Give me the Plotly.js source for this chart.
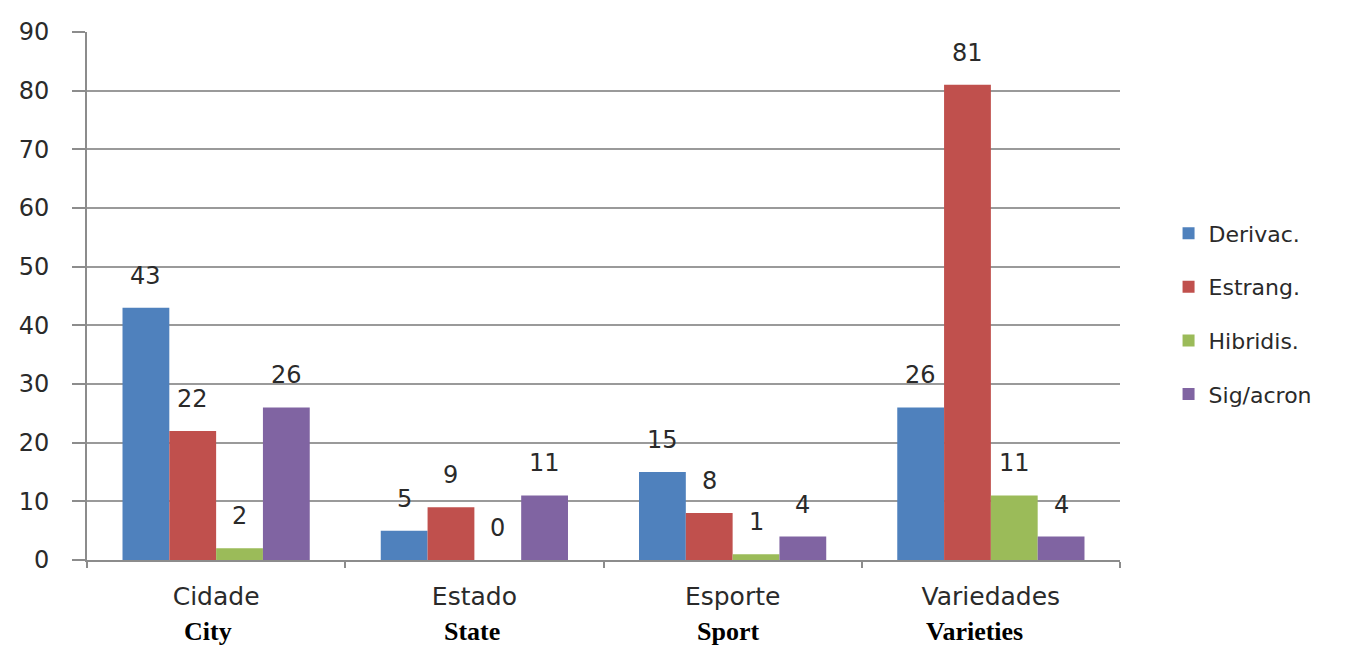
<!DOCTYPE html>
<html>
<head>
<meta charset="utf-8">
<script src="https://cdn.plot.ly/plotly-3.0.1.min.js"></script>
<style>html,body{margin:0;padding:0;background:#fff;}#chart{width:1357px;height:648px;}</style>
</head>
<body>
<div id="chart"></div>
<script>
const categories = ["Cidade", "Estado", "Esporte", "Variedades"];
const englishLabels = ["City", "State", "Sport", "Varieties"];
const seriesNames = ["Derivac.", "Estrang.", "Hibridis.", "Sig/acron"];
const derivac = [43, 5, 15, 26];
const estrang = [22, 9, 8, 81];
const hibridis = [2, 0, 1, 11];
const sigacron = [26, 11, 4, 4];
const seriesColors = ["#4F81BD", "#C0504D", "#9BBB59", "#8064A2"];
const yTicks = [0, 10, 20, 30, 40, 50, 60, 70, 80, 90];

const allSeries = [derivac, estrang, hibridis, sigacron];
const labelFont = {family: "DejaVu Sans", size: 24, color: "#2a2a2a"};
const bargap = 0.275;
const englishShift = [-8, -2, -5, -16];

const traces = allSeries.map((vals, i) => ({
  type: "bar",
  name: seriesNames[i],
  x: categories,
  y: vals,
  marker: {color: seriesColors[i]},
  legendgroup: "g" + i
}));

// data labels above bars
const plotWidth = 1357 - 87 - 237;
const catWidth = plotWidth / categories.length;
const barW = catWidth * (1 - bargap) / allSeries.length;
const annotations = [];
allSeries.forEach((vals, i) => {
  vals.forEach((v, j) => {
    annotations.push({
      x: categories[j], y: v, xref: "x", yref: "y",
      text: String(v), showarrow: false,
      xshift: (i - (allSeries.length - 1) / 2) * barW,
      yshift: 32, yanchor: "middle",
      font: labelFont
    });
  });
});
englishLabels.forEach((t, j) => {
  annotations.push({
    x: categories[j], y: 0, xref: "x", yref: "paper",
    text: "<b>" + t + "</b>", showarrow: false,
    yshift: -71, yanchor: "middle", xshift: englishShift[j],
    font: {family: "Liberation Serif", size: 26, color: "#000"}
  });
});

const layout = {
  width: 1357, height: 648,
  margin: {l: 87, r: 237, t: 32, b: 88},
  paper_bgcolor: "#fff", plot_bgcolor: "#fff",
  barmode: "group", bargap: bargap, bargroupgap: 0,
  showlegend: true,
  legend: {
    x: 1.047, xanchor: "left", y: 0.466, yanchor: "middle",
    font: {family: "DejaVu Sans", size: 22, color: "#2a2a2a"},
    traceorder: "grouped", tracegroupgap: 22,
    itemwidth: 30
  },
  xaxis: {
    type: "category",
    showline: true, linecolor: "#8c8c8c", linewidth: 2,
    ticks: "outside", tickson: "boundaries", ticklen: 6, tickcolor: "#8c8c8c", tickwidth: 2,
    tickfont: {family: "DejaVu Sans", size: 25, color: "#2a2a2a"},
    ticklabelstandoff: 13,
    showgrid: false, fixedrange: true
  },
  yaxis: {
    range: [0, 90],
    tickvals: yTicks,
    showline: true, linecolor: "#8c8c8c", linewidth: 2,
    ticks: "outside", ticklen: 13, tickcolor: "#8c8c8c", tickwidth: 2,
    showgrid: true, gridcolor: "#9a9a9a", gridwidth: 2,
    zeroline: false,
    tickfont: {family: "DejaVu Sans", size: 24, color: "#2a2a2a"},
    ticklabelstandoff: 18,
    fixedrange: true
  },
  annotations: annotations
};

Plotly.newPlot("chart", traces, layout, {displayModeBar: false, staticPlot: true});
</script>
</body>
</html>
